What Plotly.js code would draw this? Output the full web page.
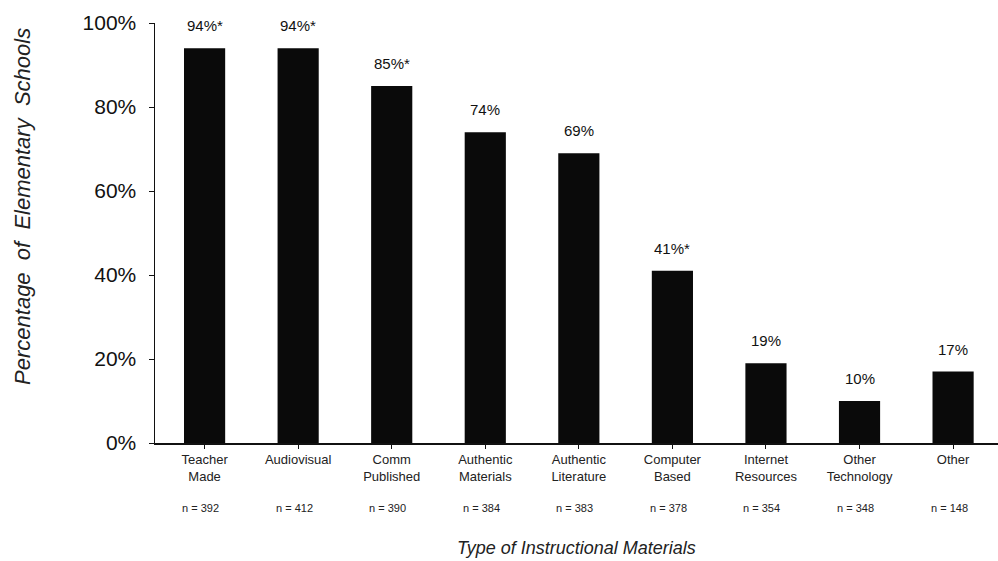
<!DOCTYPE html>
<html>
<head>
<meta charset="utf-8">
<script src="https://cdn.plot.ly/plotly-3.0.1.min.js"></script>
<style>html,body{margin:0;padding:0;background:#fff;}#chart{width:998px;height:561px;}</style>
</head>
<body>
<div id="chart"></div>
<script>
var categories = ["Teacher<br>Made", "Audiovisual", "Comm<br>Published", "Authentic<br>Materials", "Authentic<br>Literature", "Computer<br>Based", "Internet<br>Resources", "Other<br>Technology", "Other"];
var values = [94, 94, 85, 74, 69, 41, 19, 10, 17];
var valueLabels = ["94%*", "94%*", "85%*", "74%", "69%", "41%*", "19%", "10%", "17%"];
var nLabels = ["n = 392", "n = 412", "n = 390", "n = 384", "n = 383", "n = 378", "n = 354", "n = 348", "n = 148"];
var yTicks = [0, 20, 40, 60, 80, 100];
var xTitle = "Type of Instructional Materials";
var yTitleWords = ["Percentage", "of", "Elementary", "Schools"];

var idx = categories.map(function(c, i){ return i; });
var NB = '\u00A0';
var yTitle = yTitleWords.join(NB + NB);

var trace = {
  type: 'bar',
  x: idx,
  y: values,
  width: 0.44,
  marker: {color: '#0a0a0a', line: {width: 0}},
  hoverinfo: 'none'
};

var annotations = [];
idx.forEach(function(i){
  annotations.push({
    x: i, y: values[i], xref: 'x', yref: 'y',
    text: valueLabels[i], showarrow: false,
    yanchor: 'bottom', yshift: 12,
    font: {family: 'Arial, Liberation Sans, sans-serif', size: 15, color: '#111'}
  });
  annotations.push({
    x: i, y: -0.155, xref: 'x', yref: 'paper',
    text: nLabels[i], showarrow: false,
    yanchor: 'middle', xshift: -4,
    font: {family: 'Arial, Liberation Sans, sans-serif', size: 11, color: '#222'}
  });
});
// y-axis title
annotations.push({
  x: -0.158, y: 0.564, xref: 'paper', yref: 'paper',
  text: yTitle, showarrow: false, textangle: -90,
  xanchor: 'center', yanchor: 'middle',
  font: {family: 'Arial, Liberation Sans, sans-serif', size: 22, color: '#222', style: 'italic'}
});

var layout = {
  width: 998, height: 561,
  margin: {l: 155, r: 0, t: 23, b: 118},
  paper_bgcolor: '#fff', plot_bgcolor: '#fff',
  showlegend: false,
  font: {family: 'Arial, Liberation Sans, sans-serif', color: '#111'},
  xaxis: {
    range: [-0.53, 8.48],
    tickmode: 'array', tickvals: idx, ticktext: categories,
    tickson: 'boundaries',
    ticks: 'outside', ticklen: 4, tickcolor: '#111',
    showline: true, linecolor: '#111', linewidth: 1.5,
    showgrid: false, zeroline: false,
    tickfont: {size: 13, color: '#222'},
    title: {text: xTitle, standoff: 58,
            font: {size: 18, color: '#222', style: 'italic'}},
    automargin: false, fixedrange: true
  },
  yaxis: {
    range: [0, 100],
    tickmode: 'array', tickvals: yTicks,
    ticktext: yTicks.map(function(v){ return v + '%'; }),
    ticks: 'outside', ticklen: 5, tickcolor: '#111',
    ticklabelstandoff: 8,
    showline: true, linecolor: '#111', linewidth: 1.5,
    showgrid: false, zeroline: false,
    tickfont: {size: 21, color: '#111'},
    automargin: false, fixedrange: true
  },
  annotations: annotations
};

Plotly.newPlot('chart', [trace], layout, {displayModeBar: false, staticPlot: true});
</script>
</body>
</html>
